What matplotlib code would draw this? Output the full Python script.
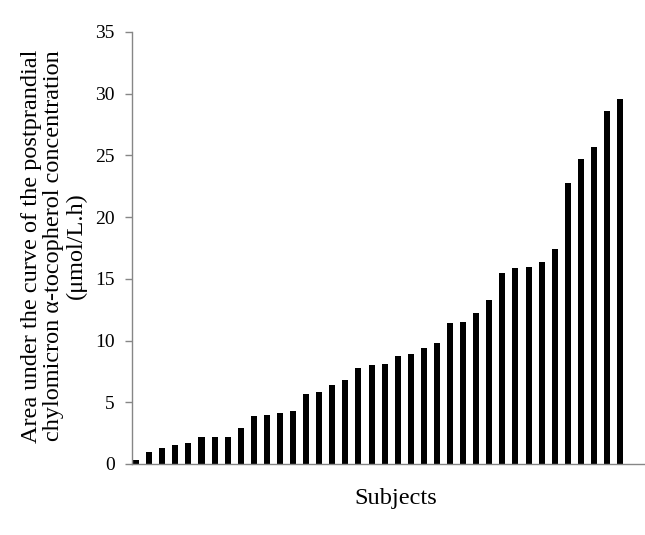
import matplotlib
matplotlib.use("Agg")
import matplotlib.pyplot as plt
import numpy as np

values = [0.32, 0.95, 1.32, 1.54, 1.68, 2.16, 2.22, 2.22, 2.89, 3.86, 3.97, 4.16, 4.30,
          5.65, 5.84, 6.43, 6.81, 7.78, 8.00, 8.14, 8.78, 8.95, 9.43, 9.84, 11.46, 11.54,
          12.24, 13.27, 15.46, 15.92, 16.00, 16.40, 17.43, 22.73, 24.68, 25.65, 28.57, 29.57]
yticks = [0, 5, 10, 15, 20, 25, 30, 35]

plt.rcParams['font.family'] = ['Liberation Serif', 'DejaVu Serif']

fig = plt.figure(figsize=(6.45, 5.35), dpi=100)
ax_left, ax_w = 131.5, 645 - 131.5
ax = fig.add_axes([ax_left/645, 71/535, ax_w/645, 432/535])

x = np.arange(len(values))
ax.bar(x, values, width=0.46, color='black')

ax.set_xlim(-0.35, 38.9)
ax.set_ylim(0, 35)
ax.set_yticks(yticks)
ax.set_yticklabels([str(t) for t in yticks], fontsize=14)
ax.set_xticks([])

for s in ['top', 'right']:
    ax.spines[s].set_visible(False)
for s in ['left', 'bottom']:
    ax.spines[s].set_color('#868686')
    ax.spines[s].set_linewidth(1.0)
ax.tick_params(axis='y', direction='out', length=5.2, color='#868686', width=1.0, pad=7)

ax.set_ylabel("Area under the curve of the postprandial\nchylomicron α-tocopherol concentration\n(μmol/L.h)",
              fontsize=17.5, linespacing=1.1)
ax.yaxis.set_label_coords((87 - ax_left)/ax_w, 0.505)
ax.set_xlabel("Subjects", fontsize=17.5)
ax.xaxis.set_label_coords((395.5 - ax_left)/ax_w, -(488 - 464)/432)

fig.savefig("out.png", dpi=100)
